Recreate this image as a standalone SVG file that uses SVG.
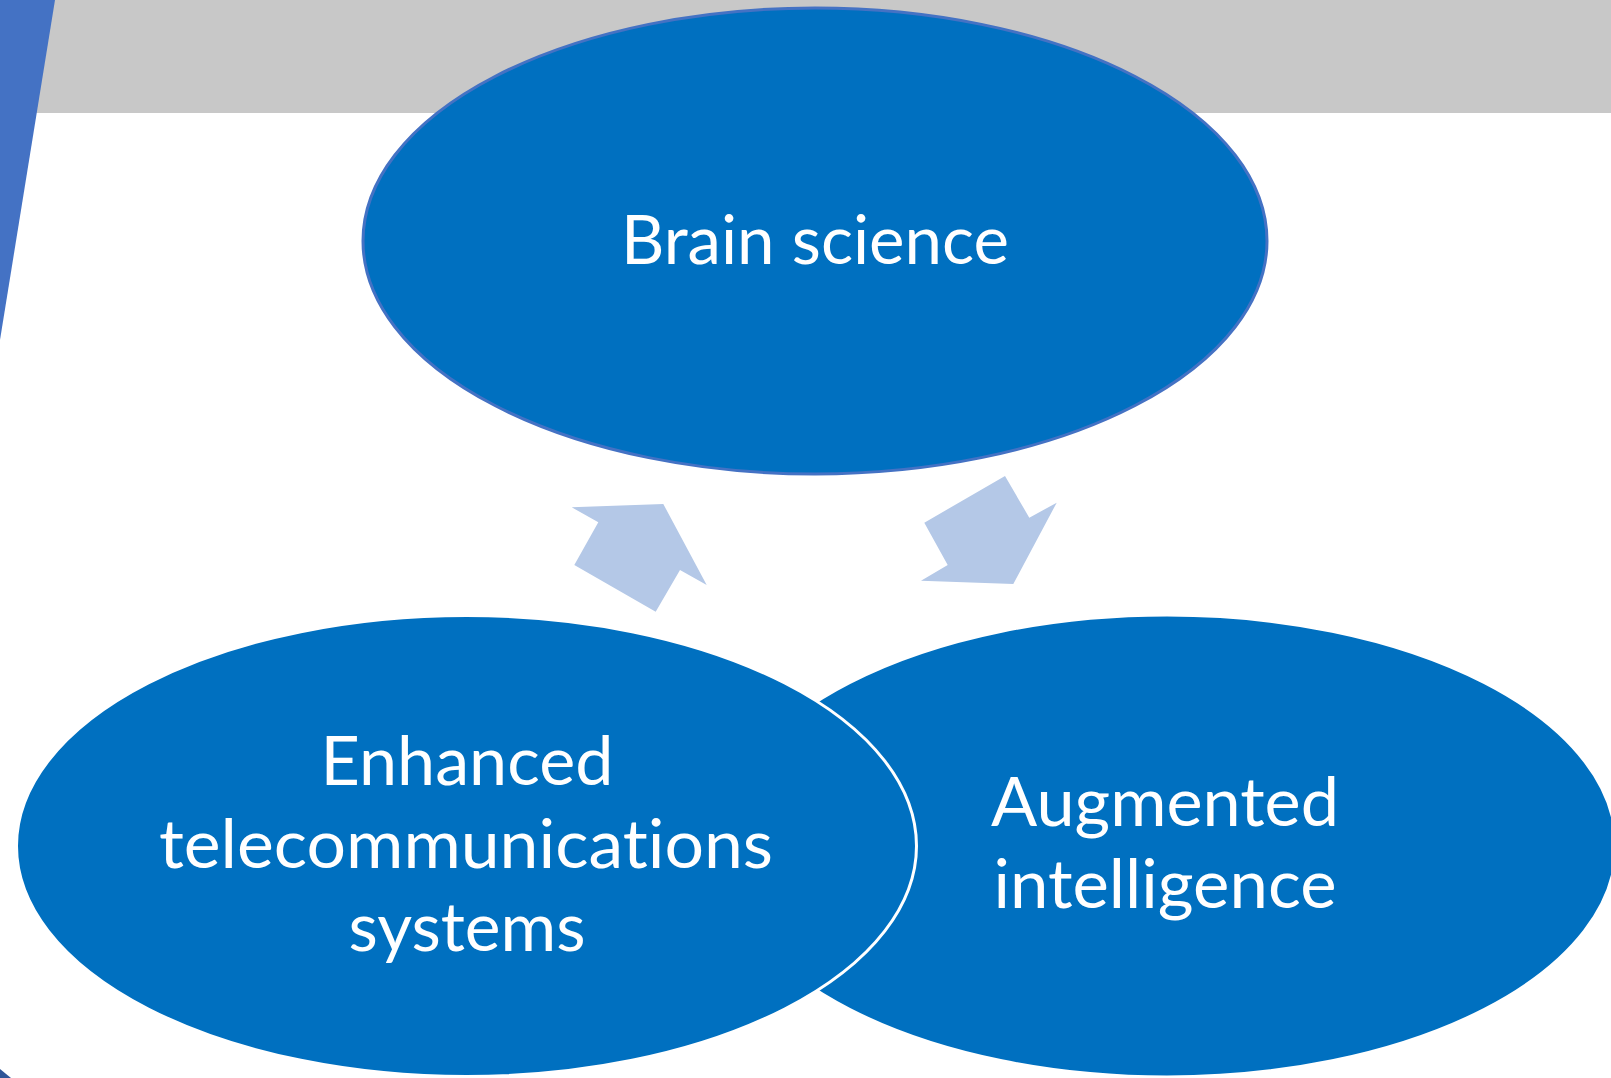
<svg xmlns="http://www.w3.org/2000/svg" width="1611" height="1078" viewBox="0 0 1611 1078">
  <style>
    .node { fill: #0070C0; }
    .lbl { font-family: Lato, "Open Sans", "Liberation Sans", sans-serif; font-size: 68px; fill: #FFFFFF; text-anchor: middle; font-variant-ligatures: none; font-feature-settings: "liga" 0, "clig" 0; }
    .arrow { fill: #B4C8E7; stroke: none; }
  </style>
  <rect x="0" y="0" width="1611" height="1078" fill="#FFFFFF"/>
  <g id="background">
    <rect x="0" y="0" width="1611" height="113" fill="#C8C8C8"/>
    <polygon points="0,0 55,0 0,340" fill="#4472C4"/>
    <polygon points="0,1069 0,1078 11,1078" fill="#2F5597"/>
  </g>
  <g id="node-brain-science">
    <ellipse class="node" cx="815" cy="241" rx="452" ry="233" stroke="#4472C4" stroke-width="3"/>
    <text class="lbl" x="815" y="264" textLength="388" lengthAdjust="spacingAndGlyphs">Brain science</text>
  </g>
  <g id="node-augmented-intelligence">
    <ellipse class="node" cx="1167" cy="846" rx="449" ry="231" stroke="#FFFFFF" stroke-width="3"/>
    <text class="lbl" x="1165" y="826" textLength="348" lengthAdjust="spacingAndGlyphs">Augmented</text>
    <text class="lbl" x="1165" y="908" textLength="343" lengthAdjust="spacingAndGlyphs">intelligence</text>
  </g>
  <g id="node-enhanced-telecommunications-systems">
    <ellipse class="node" cx="466.5" cy="846" rx="450" ry="230.5" stroke="#FFFFFF" stroke-width="3"/>
    <text class="lbl" x="467" y="785" textLength="293" lengthAdjust="spacingAndGlyphs">Enhanced</text>
    <text class="lbl" x="466" y="868" textLength="614" lengthAdjust="spacingAndGlyphs">telecommunications</text>
    <text class="lbl" x="467" y="951" textLength="237" lengthAdjust="spacingAndGlyphs">systems</text>
  </g>
  <g id="connectors">
    <polygon class="arrow" points="571.7,507.3 663.3,504 706.7,585 680,570 655.7,611.7 574.3,565 598.3,522.3"/>
    <polygon class="arrow" points="1005,476 1029.3,517.7 1056.7,502.7 1013.3,584 921,580.7 947.7,565 924.3,522.7"/>
  </g>
</svg>
